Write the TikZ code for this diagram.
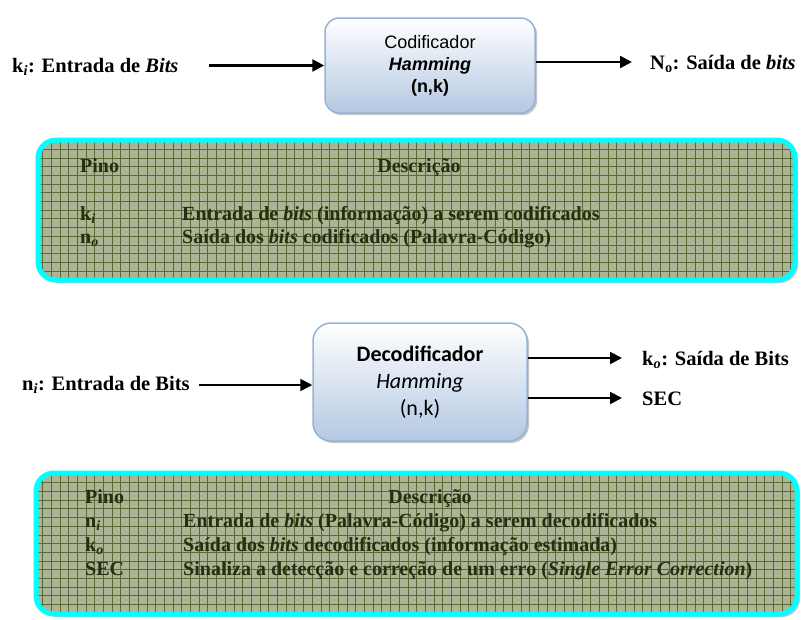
\documentclass[tikz,border=0pt]{standalone}
\usepackage{fontspec}
\setmainfont{Liberation Serif}
\newfontfamily\blocofont{Liberation Sans}
\newfontfamily\decfont{Carlito}
\usetikzlibrary{arrows.meta,shadows}

\definecolor{azulborda}{HTML}{95B3D7}
\definecolor{azulfundo}{HTML}{B4C8E2}
\definecolor{verdefundo}{HTML}{ABB495}
\definecolor{verdelinha}{HTML}{5B6B35}
\definecolor{verdetexto}{HTML}{22300F}
\definecolor{ciano}{HTML}{00FFFF}

\tikzset{
	bloco/.style={rounded corners=14pt, draw=azulborda, line width=1.5pt,
		top color=white, bottom color=azulfundo, align=center,
		drop shadow={shadow xshift=2pt, shadow yshift=-2pt, opacity=0.45}},
	tabela/.style={rounded corners=18pt, draw=ciano, line width=5pt, fill=verdefundo,
		drop shadow={shadow xshift=3pt, shadow yshift=-3pt, opacity=0.45},
		path picture={\draw[verdelinha, line width=0.5pt, step=8.7pt]
			(path picture bounding box.south west) grid (path picture bounding box.north east);}},
	rotulo/.style={font=\bfseries\fontsize{20.5}{24}\selectfont, inner sep=0pt, anchor=base west},
	texto/.style={font=\bfseries\fontsize{20}{22}\selectfont, text=verdetexto, inner sep=0pt, anchor=base west},
	seta/.style={->, >={Triangle[length=12pt,width=12pt]}, line width=2.5pt}
}

\begin{document}
\begin{tikzpicture}[x=1pt,y=-1pt]
	\useasboundingbox (0,0) rectangle (801,619);
	% codificador
	\node[bloco, minimum width=210, minimum height=95, font=\blocofont\fontsize{18}{22}\selectfont] (cod) at (430,65.5)
		{Codificador\\\textbf{\textit{Hamming}}\\\textbf{(n,k)}};
	\node[rotulo] (ki) at (12,72) {k\textsubscript{\textit{i}}: Entrada de \textit{Bits}};
	\node[rotulo] (no) at (650,69) {N\textsubscript{o}: Saída de \textit{bits}};
	\draw[seta, shorten <=30pt] (ki.east |- cod.west) -- (cod.west);
	\draw[seta, shorten >=18pt] (cod.east |- 0,62) -- (no.west |- 0,62);
	% tabela 1
	\node[tabela, minimum width=757, minimum height=140] (tab1) at (416.5,210) {};
	\node[texto] (p1) at (80,172) {Pino};
	\node[texto, anchor=base] (d1) at (419,172) {Descrição};
	\node[texto] (a1) at (80,220) {k\textsubscript{\textit{i}}};
	\node[texto] (b1) at (182,220) {Entrada de \textit{bits} (informação) a serem codificados};
	\node[texto] (a2) at (80,243) {n\textsubscript{\textit{o}}};
	\node[texto] (b2) at (182,243) {Saída dos \textit{bits} codificados (Palavra-Código)};
	% decodificador
	\node[bloco, rounded corners=18pt, minimum width=214, minimum height=118, font=\decfont\fontsize{22}{27}\selectfont] (dec) at (420,382)
		{\textbf{Decodificador}\\\textit{Hamming}\\(n,k)};
	\node[rotulo] (ni) at (22,390) {n\textsubscript{\textit{i}}: Entrada de Bits};
	\node[rotulo] (ko) at (642,365) {k\textsubscript{\textit{o}}: Saída de Bits};
	\node[rotulo] (sec) at (642,405) {SEC};
	\draw[seta, line width=2pt, shorten <=9pt] (ni.east |- 0,385) -- (dec.west |- 0,385);
	\draw[seta, line width=2pt, shorten >=20pt] (dec.east |- 0,358) -- (ko.west |- 0,358);
	\draw[seta, line width=2pt, shorten >=20pt] (dec.east |- 0,398) -- (sec.west |- 0,398);
	% tabela 2
	\node[tabela, minimum width=761, minimum height=141] (tab2) at (416.5,543.5) {};
	\node[texto] (p2) at (85,503) {Pino};
	\node[texto, anchor=base] (d2) at (430,503) {Descrição};
	\node[texto] (c1) at (85,527) {n\textsubscript{\textit{i}}};
	\node[texto] (e1) at (183,527) {Entrada de \textit{bits} (Palavra-Código) a serem decodificados};
	\node[texto] (c2) at (85,551) {k\textsubscript{\textit{o}}};
	\node[texto] (e2) at (183,551) {Saída dos \textit{bits} decodificados (informação estimada)};
	\node[texto] (c3) at (85,575) {SEC};
	\node[texto] (e3) at (183,575) {Sinaliza a detecção e correção de um erro (\textit{Single Error Correction})};
\end{tikzpicture}
\end{document}
